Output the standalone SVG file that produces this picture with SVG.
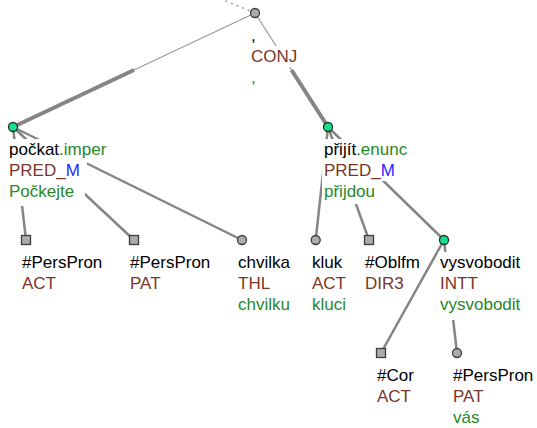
<svg xmlns="http://www.w3.org/2000/svg" width="537" height="428" viewBox="0 0 537 428">
<style>
text{font-family:"Liberation Sans",Arial,sans-serif;font-size:17px}
.k{fill:#000}.f{fill:#7a3628}.g{fill:#27882a}.b{fill:#2828ff}
.bg{fill:#fff}
.e{stroke:#858585;stroke-width:2.5;fill:none;stroke-linecap:round}
.thin{stroke:#9a9a9a;stroke-width:1.2;fill:none}
.thick{stroke:#858585;stroke-width:4;fill:none}
.dot{stroke:#999;stroke-width:1.5;stroke-dasharray:2 4;fill:none}
.n{fill:#ababab;stroke:#3c3c3c;stroke-width:1.3}
.gn{fill:#0fe48c;stroke:#2a2a2a;stroke-width:1.3}
</style>
<g id="connectors">
<line class="dot" x1="255" y1="13" x2="221" y2="-1"/>
<line class="thin" x1="255" y1="13" x2="134" y2="70"/>
<line class="thick" x1="134" y1="70" x2="13" y2="127"/>
<line class="thin" x1="255" y1="13" x2="291.5" y2="70"/>
<line class="thick" x1="291.5" y1="70" x2="328" y2="127"/>
<line class="e" x1="13" y1="127" x2="26" y2="240"/>
<line class="e" x1="13" y1="127" x2="134" y2="240"/>
<line class="e" x1="13" y1="127" x2="242" y2="240"/>
<line class="e" x1="328" y1="127" x2="315.7" y2="240"/>
<line class="e" x1="328" y1="127" x2="369" y2="240"/>
<line class="e" x1="328" y1="127" x2="444" y2="240"/>
<line class="e" x1="444" y1="240" x2="381" y2="353"/>
<line class="e" x1="444" y1="240" x2="457" y2="353"/>
</g>
<g id="n-conj">
<rect class="bg" x="249" y="25" width="9" height="21"/>
<rect class="bg" x="249" y="46" width="51" height="21"/>
<rect class="bg" x="249" y="67" width="9" height="22"/>
<text x="251" y="41" class="k">,</text>
<text x="251" y="62" class="f">CONJ</text>
<text x="251" y="82.5" class="g">,</text>
<circle class="n" cx="255" cy="13" r="4.5"/>
</g>
<g id="n-pockat">
<rect class="bg" x="7" y="139" width="104" height="21"/>
<rect class="bg" x="7" y="160" width="80" height="21"/>
<rect class="bg" x="7" y="181" width="78" height="25"/>
<text x="9" y="155"><tspan class="k">počkat</tspan><tspan class="g">.imper</tspan></text>
<text x="9" y="176"><tspan class="f">PRED_</tspan><tspan class="b">M</tspan></text>
<text x="9" y="196.5" class="g">Počkejte</text>
<circle class="gn" cx="13" cy="127" r="4.5"/>
</g>
<g id="n-prijit">
<rect class="bg" x="322" y="139" width="89" height="21"/>
<rect class="bg" x="322" y="160" width="78" height="21"/>
<rect class="bg" x="322" y="181" width="60" height="23"/>
<text x="324" y="155"><tspan class="k">přijít</tspan><tspan class="g">.enunc</tspan></text>
<text x="324" y="176"><tspan class="f">PRED_</tspan><tspan class="b">M</tspan></text>
<text x="324" y="196.5" class="g">přijdou</text>
<circle class="gn" cx="328" cy="127" r="4.5"/>
</g>
<g id="n-perspron-act">
<rect class="bg" x="20" y="252" width="86" height="21"/>
<rect class="bg" x="20" y="273" width="40" height="22"/>
<text x="22" y="268" class="k">#PersPron</text>
<text x="22" y="289" class="f">ACT</text>
<rect class="n" x="21.5" y="235.5" width="9" height="9"/>
</g>
<g id="n-perspron-pat">
<rect class="bg" x="128" y="252" width="86" height="21"/>
<rect class="bg" x="128" y="273" width="39" height="22"/>
<text x="130" y="268" class="k">#PersPron</text>
<text x="130" y="289" class="f">PAT</text>
<rect class="n" x="129.5" y="235.5" width="9" height="9"/>
</g>
<g id="n-chvilka">
<rect class="bg" x="236" y="252" width="58" height="21"/>
<rect class="bg" x="236" y="273" width="38" height="21"/>
<rect class="bg" x="236" y="294" width="58" height="24"/>
<text x="238" y="268" class="k">chvilka</text>
<text x="238" y="289" class="f">THL</text>
<text x="238" y="309.5" class="g">chvilku</text>
<circle class="n" cx="242" cy="240" r="4.5"/>
</g>
<g id="n-kluk">
<rect class="bg" x="310" y="252" width="36" height="21"/>
<rect class="bg" x="310" y="273" width="40" height="21"/>
<rect class="bg" x="310" y="294" width="40" height="24"/>
<text x="312" y="268" class="k">kluk</text>
<text x="312" y="289" class="f">ACT</text>
<text x="312" y="309.5" class="g">kluci</text>
<circle class="n" cx="315.7" cy="240" r="4.5"/>
</g>
<g id="n-oblfm">
<rect class="bg" x="363" y="252" width="61" height="21"/>
<rect class="bg" x="363" y="273" width="45" height="22"/>
<text x="365" y="268" class="k">#Oblfm</text>
<text x="365" y="289" class="f">DIR3</text>
<rect class="n" x="364.5" y="235.5" width="9" height="9"/>
</g>
<g id="n-vysvobodit">
<rect class="bg" x="438" y="252" width="86" height="21"/>
<rect class="bg" x="438" y="273" width="44" height="21"/>
<rect class="bg" x="438" y="294" width="86" height="26"/>
<text x="440" y="268" class="k">vysvobodit</text>
<text x="440" y="289" class="f">INTT</text>
<text x="440" y="309.5" class="g">vysvobodit</text>
<circle class="gn" cx="444" cy="240" r="4.5"/>
</g>
<g id="n-cor">
<rect class="bg" x="375" y="365" width="43" height="21"/>
<rect class="bg" x="375" y="386" width="40" height="21"/>
<text x="377" y="381" class="k">#Cor</text>
<text x="377" y="402" class="f">ACT</text>
<rect class="n" x="376.5" y="348.5" width="9" height="9"/>
</g>
<g id="n-perspron-pat2">
<rect class="bg" x="451" y="365" width="86" height="21"/>
<rect class="bg" x="451" y="386" width="39" height="21"/>
<rect class="bg" x="451" y="407" width="33" height="21"/>
<text x="453" y="381" class="k">#PersPron</text>
<text x="453" y="402" class="f">PAT</text>
<text x="453" y="422.5" class="g">vás</text>
<circle class="n" cx="457" cy="353" r="4.5"/>
</g>
</svg>
